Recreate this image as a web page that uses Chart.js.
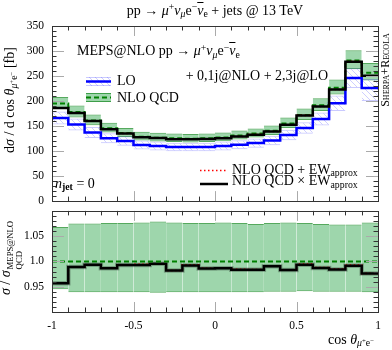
<!DOCTYPE html>
<html>
<head>
<meta charset="utf-8">
<script src="https://cdn.jsdelivr.net/npm/chart.js@4.4.1/dist/chart.umd.min.js"></script>
<style>
  body { margin: 0; background: #fff; }
  #wrap { position: relative; width: 392px; height: 350px; overflow: hidden; background: #fff;
          font-family: "Liberation Serif", serif; color: #000; }
  canvas { position: absolute; left: 0; }
  .t { position: absolute; white-space: nowrap; line-height: 1; font-size: 14px; }
  .t sup, .t sub { font-size: 0.7em; line-height: 0; position: relative; vertical-align: baseline; }
  .t sup { top: -0.45em; }
  .t sub { top: 0.3em; }
  .bar { text-decoration: overline; }
  .rot { transform: translate(-50%, -50%) rotate(-90deg); }
  .stack { display: inline-flex; flex-direction: column; font-size: 0.62em; line-height: 1.05;
           vertical-align: -0.35em; margin-left: 1px; }
</style>
</head>
<body>
<div id="wrap">
  <canvas id="haut" width="392" height="216" style="top:0"></canvas>
  <canvas id="bas" width="392" height="154" style="top:196px"></canvas>

  <div class="t" style="left:215px; top:3.5px; transform:translateX(-50%)">pp → <i>μ</i><sup>+</sup><i>ν</i><sub><i>μ</i></sub>e<sup>−</sup><span class="bar"><i>ν</i></span><sub>e</sub> + jets @ 13 TeV</div>
  <div class="t" style="left:77px; top:44px">MEPS@NLO pp → <i>μ</i><sup>+</sup><i>ν</i><sub><i>μ</i></sub>e<sup>−</sup><span class="bar"><i>ν</i></span><sub>e</sub></div>
  <div class="t" style="right:64px; top:69px">+ 0,1j@NLO + 2,3j@LO</div>
  <div class="t" style="left:117px; top:74px">LO</div>
  <div class="t" style="left:117px; top:90.5px">NLO QCD</div>
  <div class="t" style="left:55px; top:176.5px"><i>n</i><sub><b>jet</b></sub> = 0</div>
  <div class="t" style="left:232px; top:162.5px">NLO QCD + EW<sub>approx</sub></div>
  <div class="t" style="left:232px; top:174px">NLO QCD × EW<sub>approx</sub></div>
  <div class="t" style="left:328px; top:332.5px">cos <i>θ</i><sub><i>μ</i><sup>+</sup>e<sup>−</sup></sub></div>
  <div class="t rot" style="left:10px; top:100px">d<i>σ</i> / d cos <i>θ</i><sub><i>μ</i><sup>+</sup>e<sup>−</sup></sub> [fb]</div>
  <div class="t rot" style="left:12px; top:258px"><i>σ</i> / <i>σ</i><span class="stack"><span>MEPS@NLO</span><span>QCD</span></span></div>
  <div class="t rot" style="left:385px; top:70px; font-size:12px; font-variant:small-caps">Sherpa+Recola</div>
</div>

<script>
// ---------- données ----------
const binEdges = [-1, -0.9, -0.8, -0.7, -0.6, -0.5, -0.4, -0.3, -0.2, -0.1, 0,
                  0.1, 0.2, 0.3, 0.4, 0.5, 0.6, 0.7, 0.8, 0.9, 1];

// panneau du haut [fb]
const lo      = [166, 153, 137, 125.5, 120, 112, 110, 108, 108, 108, 110, 112.5, 116, 121, 132, 146, 164, 195.5, 246, 226];
const loUp    = [179, 165, 148, 135.5, 129.5, 121, 119, 116.5, 116.5, 116.5, 119, 121.5, 125, 130.5, 142.5, 157.5, 177, 211, 265.5, 244];
const loDown  = [153, 141, 126, 115.5, 110.5, 103, 101, 99.5, 99.5, 99.5, 101, 103.5, 106.5, 111.5, 121.5, 134.5, 151, 180, 226, 200];
const nloQcd  = [195, 178, 161, 145.5, 136, 128.5, 126.5, 125.5, 124.5, 125.5, 127, 131, 135, 140.5, 155, 172, 191.5, 226.5, 281, 256.5];
const nloUp   = [208, 191, 173, 156.5, 146, 138.5, 136.5, 135, 134, 135, 137, 141, 145, 151, 167, 185, 205.5, 243, 301.5, 276];
const nloDown = [184, 167, 151.5, 137, 128, 121, 119, 118, 117, 118, 119.5, 123, 127, 132, 146, 162, 180, 213, 264, 241];
const nloPlusEw  = [186.5, 176, 160, 143.7, 135, 127.8, 126, 123.5, 123.7, 124, 125.6, 129.1, 132.8, 139, 152.6, 171.3, 189.2, 223.2, 278.8, 250.6];
const nloTimesEw = [186, 176, 160, 143.5, 135, 127.5, 126, 123.5, 123.5, 124, 125.5, 129, 132.7, 139, 152.5, 171, 189, 223, 278.5, 250.5];

// panneau du bas (rapport à NLO QCD)
const ratioNlo   = [1, 1, 1, 1, 1, 1, 1, 1, 1, 1, 1, 1, 1, 1, 1, 1, 1, 1, 1, 1];
const ratioUp    = [1.068, 1.075, 1.075, 1.076, 1.076, 1.077, 1.079, 1.077, 1.076, 1.076, 1.077, 1.076, 1.074, 1.076, 1.077, 1.076, 1.074, 1.073, 1.073, 1.077];
const ratioDown  = [0.945, 0.939, 0.939, 0.939, 0.939, 0.939, 0.938, 0.939, 0.939, 0.939, 0.939, 0.939, 0.939, 0.940, 0.940, 0.941, 0.940, 0.940, 0.940, 0.939];
const ratioPlus  = [0.957, 0.989, 0.9935, 0.9868, 0.993, 0.9945, 0.9955, 0.9822, 0.9935, 0.9866, 0.9875, 0.9845, 0.9842, 0.9907, 0.9833, 0.995, 0.988, 0.985, 0.993, 0.9765];
const ratioTimes = [0.957, 0.989, 0.9935, 0.9866, 0.993, 0.993, 0.9955, 0.982, 0.992, 0.986, 0.9867, 0.9835, 0.9835, 0.9905, 0.983, 0.9935, 0.987, 0.984, 0.9917, 0.976];

const xTicks = [-1, -0.5, 0, 0.5, 1];
const yTicksHaut = [0, 50, 100, 150, 200, 250, 300, 350];
const yTicksBas = [0.95, 1.0, 1.05];

// ---------- styles ----------
const POLICE = "Liberation Serif";
const VERT_BANDE = "rgba(40,165,70,0.45)";
const VERT_BORD = "rgba(30,140,40,0.75)";
const VERT_LIGNE = "#008000";
const BLEU_HACH = "rgba(80,80,255,0.3)";

// motif hachuré pour la bande LO
function creerHachures() {
    const c = document.createElement("canvas");
    c.width = 6; c.height = 6;
    const g = c.getContext("2d");
    g.strokeStyle = "rgba(60,60,255,0.25)";
    g.lineWidth = 1;
    g.beginPath();
    g.moveTo(0, 0); g.lineTo(6, 6);
    g.moveTo(-1, 5); g.lineTo(1, 7);
    g.moveTo(5, -1); g.lineTo(7, 1);
    g.stroke();
    return g.createPattern(c, "repeat");
}
const hachures = creerHachures();

// histogrammes -> points aux bords gauches (+ bord droit final)
function enMarches(vals) {
    return binEdges.map((x, i) => ({ x: x, y: vals[Math.min(i, vals.length - 1)] }));
}
function enBande(bas, haut) {
    return bas.map((v, i) => ({ x: (binEdges[i] + binEdges[i + 1]) / 2, y: [v, haut[i]] }));
}

function ligne(vals, couleur, largeur, dash, ordre) {
    return {
        type: "line",
        data: enMarches(vals),
        stepped: true,
        borderColor: couleur,
        borderWidth: largeur,
        borderDash: dash,
        borderCapStyle: "butt",
        borderJoinStyle: "miter",
        pointRadius: 0,
        fill: false,
        order: ordre
    };
}
function bande(bas, haut, fond, bord, ordre) {
    return {
        type: "bar",
        data: enBande(bas, haut),
        backgroundColor: fond,
        borderColor: bord,
        borderWidth: { top: 1, bottom: 1, left: 0, right: 0 },
        borderSkipped: false,
        inflateAmount: 0,
        grouped: false,
        barPercentage: 1,
        categoryPercentage: 1,
        order: ordre
    };
}

// -------------------------------
// Cadre + graduations intérieures
// -------------------------------
const cadre = {
    id: "cadre",
    afterDraw(chart, args, opts) {
        const { ctx, chartArea: a, scales: { x, y } } = chart;
        ctx.save();
        ctx.lineWidth = 1;

        function trait(x1, y1, x2, y2, couleur) {
            ctx.strokeStyle = couleur;
            ctx.beginPath();
            ctx.moveTo(x1, y1);
            ctx.lineTo(x2, y2);
            ctx.stroke();
        }

        // axe x : mineur 0.1, majeur 0.5
        for (let i = -9; i <= 9; i++) {
            const px = Math.round(x.getPixelForValue(i / 10)) + 0.5;
            const maj = i % 5 === 0;
            const l = maj ? 10 : 4.5;
            const c = maj ? "#aaaaaa" : "#333333";
            trait(px, a.top, px, a.top + l, c);
            trait(px, a.bottom, px, a.bottom - l, c);
        }

        // axe y
        const n = Math.round((opts.max - opts.min) / opts.mineur);
        const pas = Math.round(opts.majeur / opts.mineur);
        for (let k = 1; k < n; k++) {
            const v = opts.min + k * opts.mineur;
            const py = Math.round(y.getPixelForValue(v)) + 0.5;
            const maj = k % pas === 0;
            const l = maj ? 12 : 4.5;
            const c = maj ? "#aaaaaa" : "#333333";
            trait(a.left, py, a.left + l, py, c);
            trait(a.right, py, a.right - l, py, c);
        }

        ctx.strokeStyle = "#333333";
        ctx.strokeRect(Math.round(a.left) + 0.5, Math.round(a.top) + 0.5,
                       Math.round(a.right - a.left), Math.round(a.bottom - a.top));

        // échantillons de légende
        if (opts.legende) {
            ctx.fillStyle = hachures;
            ctx.fillRect(86, 77, 25, 9);
            trait(86, 77.5, 111, 77.5, BLEU_HACH);
            trait(86, 85.5, 111, 85.5, BLEU_HACH);
            ctx.lineWidth = 2.5;
            trait(86, 81.5, 111, 81.5, "#0000ff");

            ctx.lineWidth = 1;
            ctx.fillStyle = VERT_BANDE;
            ctx.fillRect(86, 93, 25, 9);
            trait(86, 93.5, 111, 93.5, VERT_BORD);
            trait(86, 101.5, 111, 101.5, VERT_BORD);
            ctx.lineWidth = 2;
            ctx.setLineDash([5, 3]);
            trait(86, 97.5, 111, 97.5, VERT_LIGNE);

            ctx.lineWidth = 1.6;
            ctx.setLineDash([1.5, 2.5]);
            trait(200, 170.5, 228, 170.5, "#ff0000");
            ctx.setLineDash([]);
            ctx.lineWidth = 2.5;
            trait(200, 184, 228, 184, "#000000");
        }
        ctx.restore();
    }
};

const policeTicks = { family: POLICE, size: 11.5 };

// -------------------------------
// Panneau principal
// -------------------------------
new Chart(document.getElementById("haut"), {
    type: "bar",
    data: {
        datasets: [
            bande(nloDown, nloUp, VERT_BANDE, VERT_BORD, 7),
            bande(loDown, loUp, hachures, BLEU_HACH, 6),
            ligne(lo, "#0000ff", 2.5, [], 5),
            ligne(nloQcd, VERT_LIGNE, 2, [5, 3], 4),
            ligne(nloPlusEw, "#ff0000", 1.6, [1.5, 2.5], 3),
            ligne(nloTimesEw, "#000000", 2.5, [], 2)
        ]
    },
    options: {
        responsive: false,
        animation: false,
        layout: { padding: { top: 26, right: 14, bottom: 10, left: 0 } },
        plugins: {
            legend: { display: false },
            tooltip: { enabled: false },
            cadre: { min: 0, max: 350, mineur: 10, majeur: 50, legende: true }
        },
        scales: {
            x: { type: "linear", min: -1, max: 1, offset: false, display: false },
            y: {
                min: 0, max: 350,
                afterBuildTicks: s => { s.ticks = yTicksHaut.map(v => ({ value: v })); },
                ticks: { font: policeTicks, color: "#000", padding: 8 },
                grid: { display: false, drawTicks: false },
                border: { display: false },
                afterFit: s => { s.width = 52; }
            }
        }
    },
    plugins: [cadre]
});

// -------------------------------
// Panneau du rapport
// -------------------------------
new Chart(document.getElementById("bas"), {
    type: "bar",
    data: {
        datasets: [
            bande(ratioDown, ratioUp, VERT_BANDE, VERT_BORD, 7),
            ligne(ratioNlo, VERT_LIGNE, 2, [5, 3], 2),
            ligne(ratioTimes, "rgba(0,0,0,0.25)", 4.5, [], 5),
            ligne(ratioPlus, "#ff0000", 1.6, [1.5, 2.5], 4),
            ligne(ratioTimes, "#000000", 2.5, [], 3)
        ]
    },
    options: {
        responsive: false,
        animation: false,
        layout: { padding: { top: 10, right: 14, bottom: 0, left: 0 } },
        plugins: {
            legend: { display: false },
            tooltip: { enabled: false },
            cadre: { min: 0.9, max: 1.1, mineur: 0.01, majeur: 0.05, legende: false }
        },
        scales: {
            x: {
                type: "linear", min: -1, max: 1, offset: false,
                afterBuildTicks: s => { s.ticks = xTicks.map(v => ({ value: v })); },
                ticks: { font: policeTicks, color: "#000", padding: 7, maxRotation: 0,
                         callback: v => String(v) },
                grid: { display: false, drawTicks: false },
                border: { display: false },
                afterFit: s => { s.height = 38; }
            },
            y: {
                min: 0.9, max: 1.1,
                afterBuildTicks: s => { s.ticks = yTicksBas.map(v => ({ value: v })); },
                ticks: { font: policeTicks, color: "#000", padding: 8,
                         callback: v => (Math.abs(v - 1) < 1e-6 ? "1.0" : String(v)) },
                grid: { display: false, drawTicks: false },
                border: { display: false },
                afterFit: s => { s.width = 52; }
            }
        }
    },
    plugins: [cadre]
});
</script>
</body>
</html>
